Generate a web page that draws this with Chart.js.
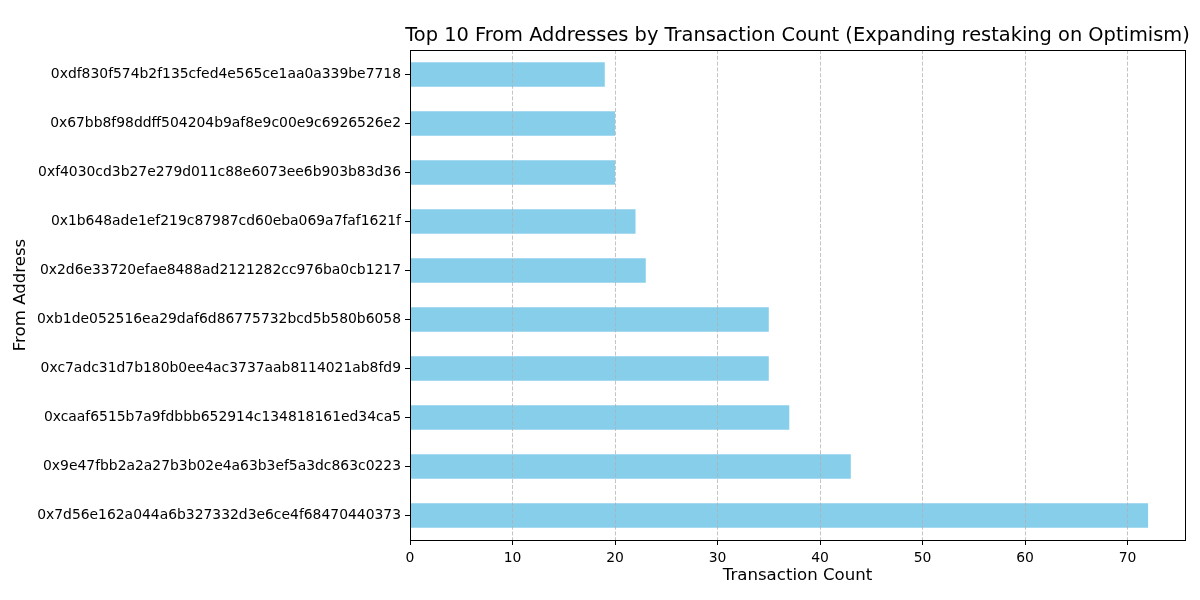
<!DOCTYPE html>
<html>
<head>
<meta charset="utf-8">
<script src="https://cdn.jsdelivr.net/npm/chart.js@4"></script>
<style>
    html, body { margin: 0; padding: 0; background: #fff; }
    #wrap { width: 1200px; height: 600px; }
</style>
</head>
<body>
<div id="wrap"><canvas id="chart"></canvas></div>
<script>
const addresses = [
    '0xdf830f574b2f135cfed4e565ce1aa0a339be7718',
    '0x67bb8f98ddff504204b9af8e9c00e9c6926526e2',
    '0xf4030cd3b27e279d011c88e6073ee6b903b83d36',
    '0x1b648ade1ef219c87987cd60eba069a7faf1621f',
    '0x2d6e33720efae8488ad2121282cc976ba0cb1217',
    '0xb1de052516ea29daf6d86775732bcd5b580b6058',
    '0xc7adc31d7b180b0ee4ac3737aab8114021ab8fd9',
    '0xcaaf6515b7a9fdbbb652914c134818161ed34ca5',
    '0x9e47fbb2a2a27b3b02e4a63b3ef5a3dc863c0223',
    '0x7d56e162a044a6b327332d3e6ce4f68470440373'
];
const txCounts = [19, 20, 20, 22, 23, 35, 35, 37, 43, 72];
const xTicks = [0, 10, 20, 30, 40, 50, 60, 70];
const xMax = 75.6;

const chartTitle = 'Top 10 From Addresses by Transaction Count (Expanding restaking on Optimism)';
const font = 'DejaVu Sans';

// title centred over the plot area, plus the full box frame
const framePlugin = {
    id: 'frame',
    afterDraw(chart) {
        const { ctx, chartArea: a } = chart;
        ctx.save();
        ctx.strokeStyle = '#000';
        ctx.lineWidth = 1;
        ctx.strokeRect(a.left + 0.5, a.top + 0.5, a.right - a.left, a.bottom - a.top);
        ctx.font = '19.4px "' + font + '"';
        ctx.fillStyle = '#000';
        ctx.textAlign = 'center';
        ctx.textBaseline = 'middle';
        ctx.fillText(chartTitle, (a.left + a.right) / 2, 36);
        ctx.restore();
    }
};

new Chart(document.getElementById('chart'), {
    type: 'bar',
    data: {
        labels: addresses,
        datasets: [{
            data: txCounts,
            backgroundColor: '#87ceeb',
            barPercentage: 0.5,
            categoryPercentage: 1
        }]
    },
    options: {
        indexAxis: 'y',
        responsive: true,
        maintainAspectRatio: false,
        animation: false,
        layout: { padding: { top: 50, right: 15, bottom: 0, left: 0 } },
        plugins: {
            legend: { display: false },
            tooltip: { enabled: false }
        },
        scales: {
            x: {
                min: 0,
                max: xMax,
                afterBuildTicks: s => { s.ticks = xTicks.map(v => ({ value: v })); },
                afterFit: s => { s.height = 60; },
                grid: {
                    color: 'rgba(176,176,176,0.75)',
                    lineWidth: 1,
                    tickColor: '#000',
                    tickLength: 5,
                    tickBorderDash: [],
                    z: 1
                },
                border: { display: false, dash: [4, 1.8] },
                ticks: { color: '#000', padding: 5, font: { family: font, size: 13.9 } },
                title: {
                    display: true,
                    text: 'Transaction Count',
                    color: '#000',
                    font: { family: font, size: 16.6 },
                    padding: { top: 0, bottom: 14 }
                }
            },
            y: {
                afterFit: s => { s.width = 410; },
                grid: {
                    offset: false,
                    drawOnChartArea: false,
                    tickColor: '#000',
                    tickLength: 5
                },
                border: { display: false },
                ticks: { color: '#000', padding: 4, font: { family: font, size: 13.9 } },
                title: {
                    display: true,
                    text: 'From Address',
                    color: '#000',
                    font: { family: font, size: 16.6 },
                    padding: { top: 11, bottom: 0 }
                }
            }
        }
    },
    plugins: [framePlugin]
});
</script>
</body>
</html>
